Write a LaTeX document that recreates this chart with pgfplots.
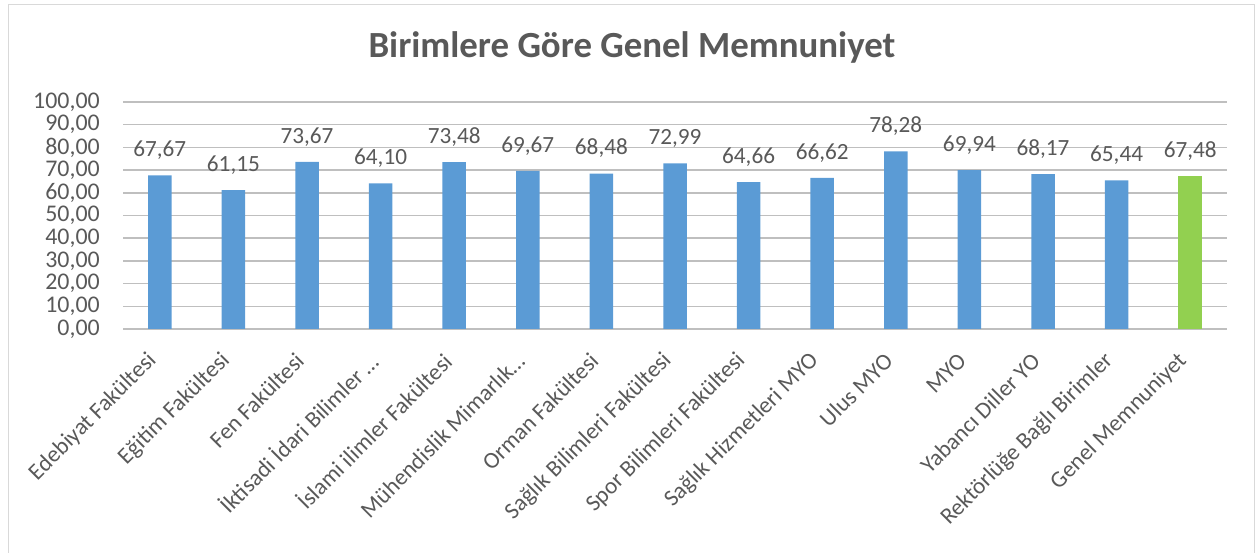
\documentclass[border=0pt]{standalone}
\usepackage{pgfplots}
\pgfplotsset{compat=1.18}
\usepackage{fontspec}
\setmainfont{Carlito}
\definecolor{txt}{HTML}{595959}
\definecolor{grid}{HTML}{D9D9D9}
\definecolor{barblue}{HTML}{5B9BD5}
\definecolor{bargreen}{HTML}{92D050}
\begin{document}
\begin{tikzpicture}[x=1bp,y=1bp]
\useasboundingbox (0,0) rectangle (1257,553);
\draw[grid, line width=1.2bp] (8.5,0) -- (8.5,548.5) -- (1254.5,548.5) -- (1254.5,0);
\node[anchor=base, text=txt, font=\fontsize{37}{44}\selectfont\bfseries] at (632,495.7) {Birimlere Göre Genel Memnuniyet};
\begin{axis}[
  at={(123bp,224bp)}, anchor=south west,
  width=1104bp, height=227bp, scale only axis,
  xmin=-0.5, xmax=14.5, ymin=0, ymax=100,
  axis line style={draw=none},
  ytick={0,10,...,100},
  xtick={0,...,14},
  xticklabels={Edebiyat Fakültesi, Eğitim Fakültesi, Fen Fakültesi, İktisadi İdari Bilimler …, İslami ilimler Fakültesi, Mühendislik Mimarlık…, Orman Fakültesi, Sağlık Bilimleri Fakültesi, Spor Bilimleri Fakültesi, Sağlık Hizmetleri MYO, Ulus MYO, MYO, Yabancı Diller YO, Rektörlüğe Bağlı Birimler, Genel Memnuniyet},
  major tick length=0pt,
  xmajorgrids=false,
  ymajorgrids, grid style={grid, line width=1.5bp},
  yticklabel={\pgfmathprintnumber[fixed, fixed zerofill, precision=2, use comma]{\tick}},
  /pgf/number format/assume math mode=true,
  yticklabel style={font=\fontsize{24}{26}\selectfont, text=txt, inner sep=0pt, anchor=east, xshift=-23bp},
  xticklabel style={font=\fontsize{23.3}{26}\selectfont, text=txt, inner sep=0pt, xshift=-7bp, yshift=-28bp, rotate=45, anchor=east},
  ybar, bar width=23.5bp,
  nodes near coords={\pgfmathprintnumber[fixed, fixed zerofill, precision=2, use comma]{\pgfplotspointmeta}},
  nodes near coords style={font=\fontsize{23.3}{26}\selectfont, text=txt, inner sep=0pt, anchor=base, yshift=18.7bp},
  clip=false,
]
\addplot[fill=barblue, draw=none, bar shift=0pt] coordinates {
(0,67.67) (1,61.15) (2,73.67) (3,64.10) (4,73.48) (5,69.67) (6,68.48) (7,72.99) (8,64.66) (9,66.62) (10,78.28) (11,69.94) (12,68.17) (13,65.44)};
\addplot[fill=bargreen, draw=none, bar shift=0pt] coordinates {(14,67.48)};
\end{axis}
\end{tikzpicture}
\end{document}
